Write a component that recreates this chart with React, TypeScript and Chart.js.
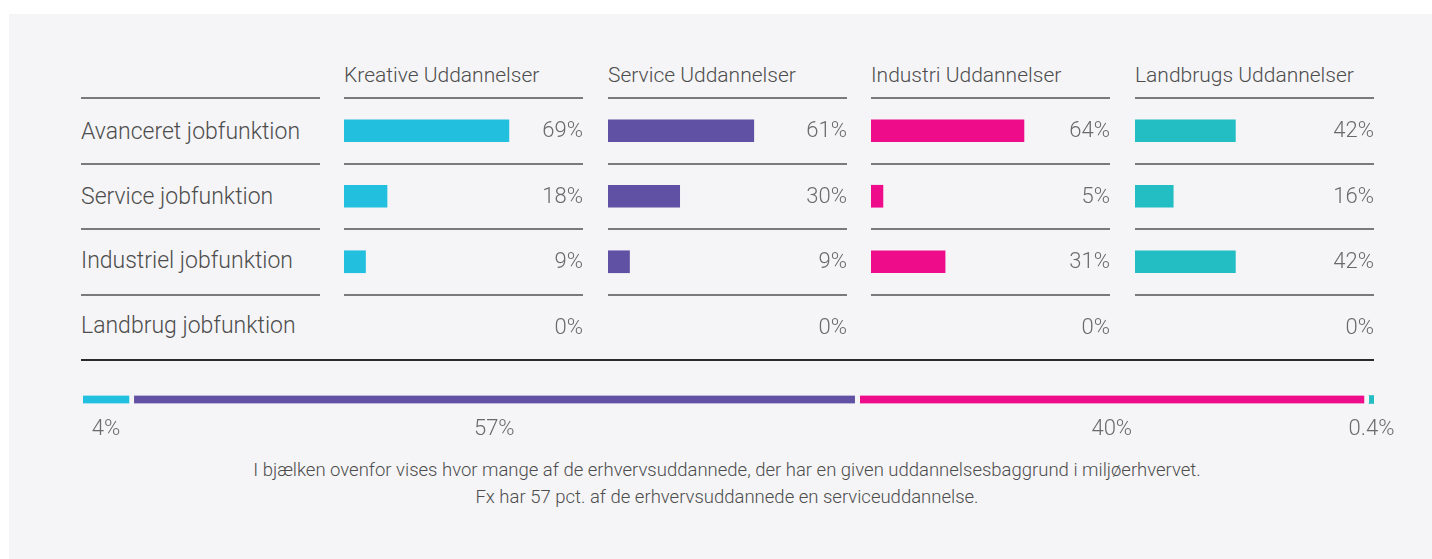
import React, { useEffect, useRef } from "react";
import { Chart, registerables } from "chart.js";

Chart.register(...registerables);

// ---------- data ----------
const jobFunctions = [
  "Avanceret jobfunktion",
  "Service jobfunktion",
  "Industriel jobfunktion",
  "Landbrug jobfunktion",
];
const educations = [
  "Kreative Uddannelser",
  "Service Uddannelser",
  "Industri Uddannelser",
  "Landbrugs Uddannelser",
];
const kreativeValues = [69, 18, 9, 0];
const serviceValues = [61, 30, 9, 0];
const industriValues = [64, 5, 31, 0];
const landbrugsValues = [42, 16, 42, 0];
const educationColors = ["#22bfdf", "#6151a4", "#ee0c8b", "#22bec3"];
const shareValues = [4, 57, 40, 0.4];
const shareLabels = ["4%", "57%", "40%", "0.4%"];
const captionLines = [
  "I bjælken ovenfor vises hvor mange af de erhvervsuddannede, der har en given uddannelsesbaggrund i miljøerhvervet.",
  "Fx har 57 pct. af de erhvervsuddannede en serviceuddannelse.",
];

// ---------- layout ----------
const FONT = "Roboto, 'Open Sans', sans-serif";
const PANEL_BG = "#f5f5f7";
const TEXT = "#4d4d4d";
const PCT = "#6a6a6a";
const LINE = "#7a7a7a";
const COL_X = [344, 608, 871, 1135];
const COL_W = 239;
const GRID_TOP = 98;
const GRID_BOTTOM = 360;

const valueLabelPlugin = {
  id: "valueLabels",
  afterDatasetsDraw(chart: any) {
    const { ctx, chartArea } = chart;
    const meta = chart.getDatasetMeta(0);
    const data = chart.data.datasets[0].data;
    ctx.save();
    ctx.font = `300 22px ${FONT}`;
    ctx.fillStyle = PCT;
    ctx.textAlign = "right";
    ctx.textBaseline = "middle";
    meta.data.forEach((el: any, i: number) => {
      ctx.fillText(`${data[i]}%`, chartArea.right, el.y + 1);
    });
    ctx.restore();
  },
};

function ColumnChart({ values, color, left }: { values: number[]; color: string; left: number }) {
  const ref = useRef<HTMLCanvasElement>(null);
  useEffect(() => {
    const chart = new Chart(ref.current!, {
      type: "bar",
      data: {
        labels: jobFunctions,
        datasets: [
          {
            data: values,
            backgroundColor: (c: any) => (c.raw === 0 ? "rgba(0,0,0,0)" : color),
            barThickness: 22,
            borderWidth: 0,
          },
        ],
      },
      options: {
        indexAxis: "y",
        animation: false,
        responsive: false,
        maintainAspectRatio: false,
        layout: { padding: { top: 8, bottom: 10, left: 0, right: 0 } },
        plugins: { legend: { display: false }, tooltip: { enabled: false }, title: { display: false } },
        scales: {
          x: { display: false, min: 0, max: 100 },
          y: {
            display: true,
            afterFit: (s: any) => {
              s.width = 0;
            },
            ticks: { display: false },
            border: { display: false },
            grid: {
              offset: true,
              drawTicks: false,
              lineWidth: 2,
              color: (c: any) => (c.index >= 4 ? "rgba(0,0,0,0)" : LINE),
            },
          },
        },
      } as any,
      plugins: [valueLabelPlugin],
    });
    return () => chart.destroy();
  }, []);
  return (
    <canvas
      ref={ref}
      width={COL_W}
      height={280}
      style={{ position: "absolute", left, top: GRID_TOP - 8, width: COL_W, height: 280 }}
    />
  );
}

const shareLabelPlugin = {
  id: "shareLabels",
  afterDatasetsDraw(chart: any) {
    const { ctx, chartArea } = chart;
    ctx.save();
    ctx.font = `300 22px ${FONT}`;
    ctx.fillStyle = PCT;
    ctx.textAlign = "center";
    ctx.textBaseline = "middle";
    chart.data.datasets.forEach((ds: any, i: number) => {
      const el: any = chart.getDatasetMeta(i).data[0];
      const gap = i < chart.data.datasets.length - 1 ? 5 : 0;
      const cx = (Math.min(el.base, el.x) + Math.max(el.base, el.x) - gap) / 2;
      ctx.fillText(shareLabels[i], cx, chartArea.bottom + 20);
    });
    ctx.restore();
  },
};

function ShareChart() {
  const ref = useRef<HTMLCanvasElement>(null);
  useEffect(() => {
    const total = shareValues.reduce((a, b) => a + b, 0);
    const chart = new Chart(ref.current!, {
      type: "bar",
      data: {
        labels: ["Andel"],
        datasets: shareValues.map((v, i) => ({
          label: educations[i],
          data: [v],
          backgroundColor: educationColors[i],
          borderColor: PANEL_BG,
          borderSkipped: false,
          borderWidth: i < shareValues.length - 1 ? { top: 0, bottom: 0, left: 0, right: 5 } : 0,
          barThickness: 8,
        })),
      },
      options: {
        indexAxis: "y",
        animation: false,
        responsive: false,
        maintainAspectRatio: false,
        layout: { padding: { top: 10, bottom: 31, left: 20, right: 29 } },
        plugins: { legend: { display: false }, tooltip: { enabled: false } },
        scales: {
          x: { display: false, stacked: true, min: 0, max: total },
          y: { display: false, stacked: true },
        },
      } as any,
      plugins: [shareLabelPlugin],
    });
    return () => chart.destroy();
  }, []);
  return (
    <canvas
      ref={ref}
      width={1340}
      height={60}
      style={{ position: "absolute", left: 63, top: 380, width: 1340, height: 60 }}
    />
  );
}

export default function App() {
  useEffect(() => {
    document.body.style.margin = "0";
  }, []);
  const colValues = [kreativeValues, serviceValues, industriValues, landbrugsValues];
  const rowCenters = [132, 197, 261, 326];
  const rowLines = [98, 164, 229, 295];
  return (
    <div
      style={{
        position: "absolute",
        left: 0,
        top: 0,
        width: 1432,
        height: 559,
        background: "#ffffff",
        overflow: "hidden",
        fontFamily: FONT,
      }}
    >
      <div style={{ position: "absolute", left: 9, top: 14, width: 1423, height: 545, background: PANEL_BG }} />

      {educations.map((e, i) => (
        <div
          key={e}
          style={{
            position: "absolute",
            left: COL_X[i],
            top: 61,
            lineHeight: "28px",
            fontSize: 21,
            fontWeight: 300,
            color: TEXT,
            whiteSpace: "nowrap",
          }}
        >
          {e}
        </div>
      ))}

      {jobFunctions.map((j, i) => (
        <div
          key={j}
          style={{
            position: "absolute",
            left: 81,
            top: rowCenters[i] - 14,
            lineHeight: "28px",
            fontSize: 23,
            fontWeight: 300,
            color: TEXT,
            whiteSpace: "nowrap",
          }}
        >
          {j}
        </div>
      ))}

      {rowLines.map((y) => (
        <div
          key={y}
          style={{ position: "absolute", left: 81, top: y - 1, width: 239, height: 2, background: LINE }}
        />
      ))}

      {colValues.map((v, i) => (
        <ColumnChart key={i} values={v} color={educationColors[i]} left={COL_X[i]} />
      ))}

      <div
        style={{ position: "absolute", left: 81, top: GRID_BOTTOM - 1, width: 1293, height: 2, background: "#2a2a2a" }}
      />

      <ShareChart />

      <div
        style={{
          position: "absolute",
          left: 0,
          top: 457,
          width: 1454,
          textAlign: "center",
          fontSize: 18.5,
          fontWeight: 300,
          lineHeight: "27px",
          color: TEXT,
        }}
      >
        {captionLines.map((l) => (
          <div key={l}>{l}</div>
        ))}
      </div>
    </div>
  );
}
